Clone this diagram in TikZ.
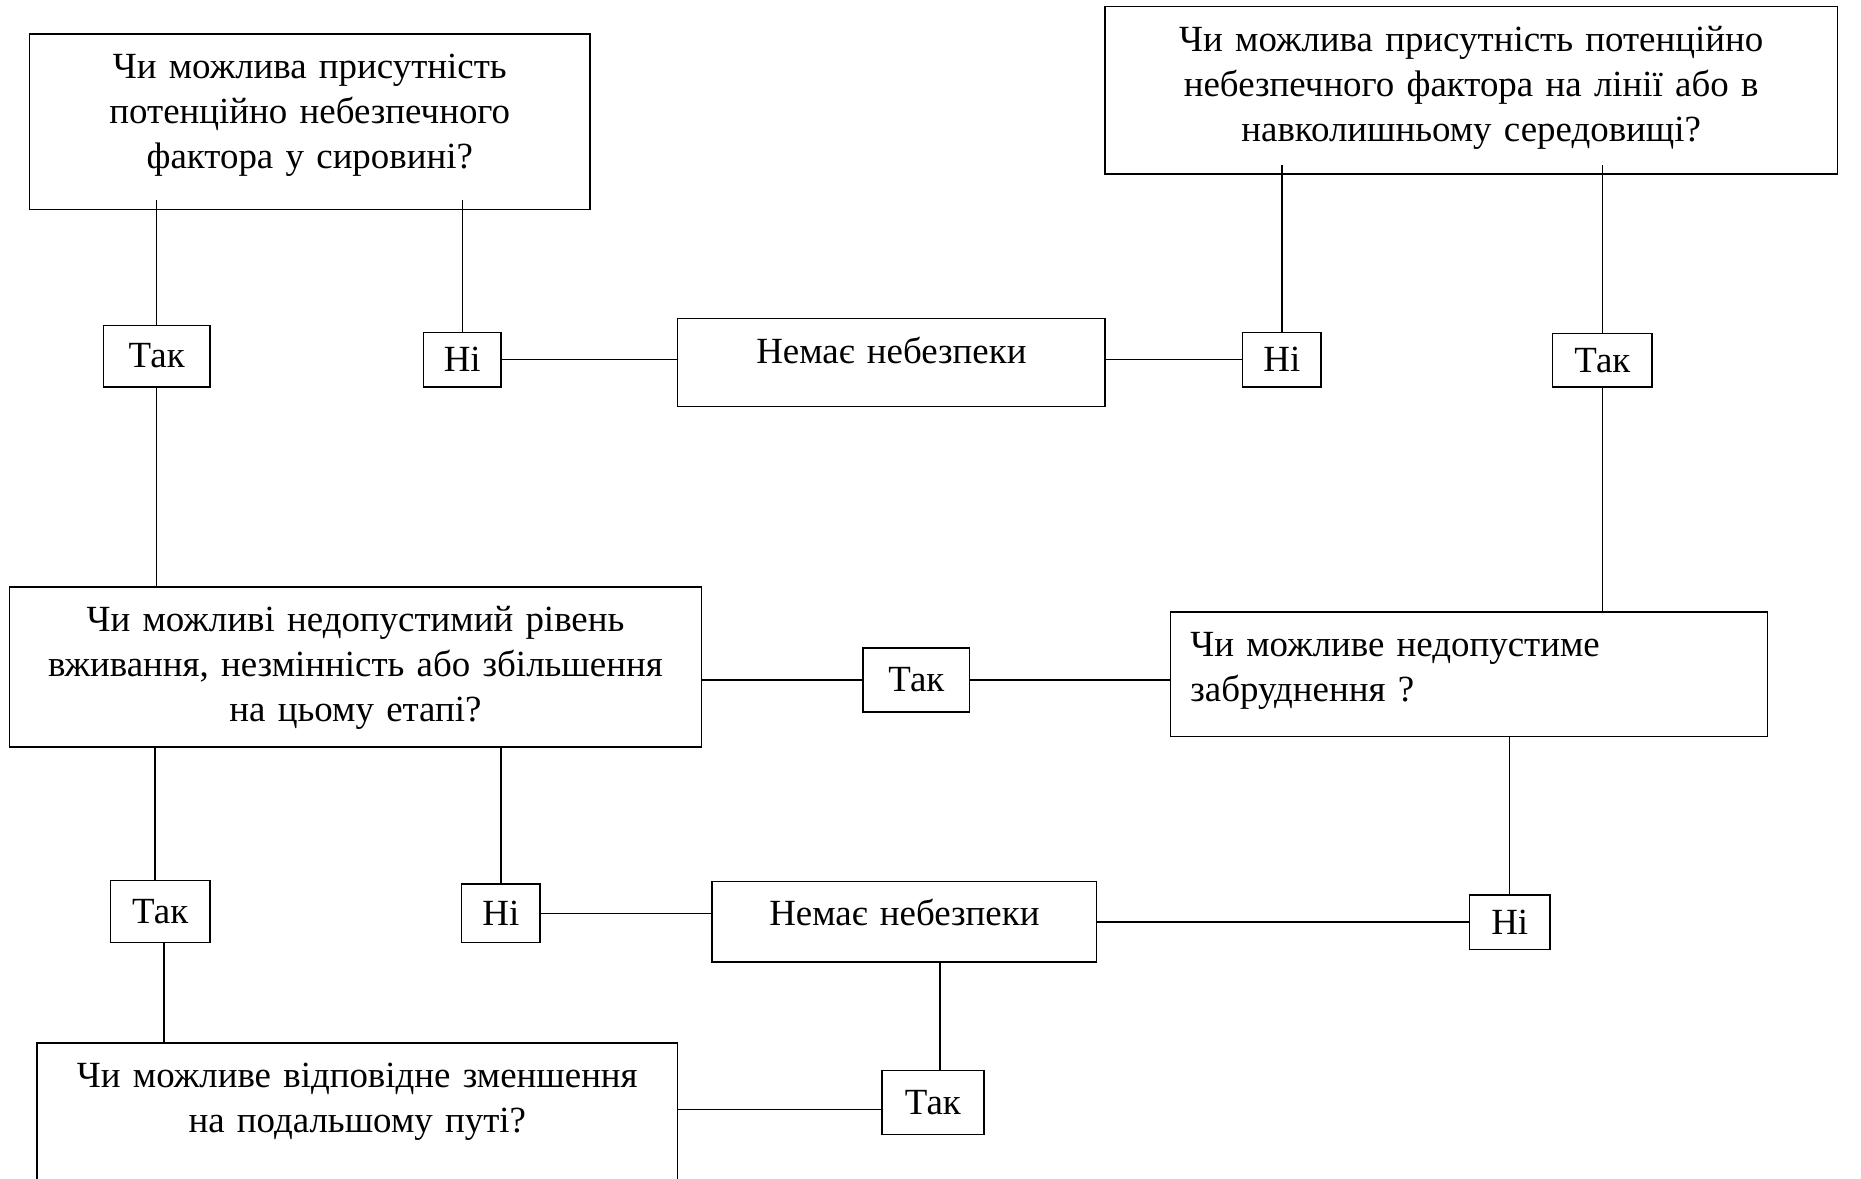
\documentclass[tikz,border=0pt]{standalone}
\usepackage{fontspec}
\setmainfont{Liberation Serif}
\usepackage{tikz}
\pgfdeclarelayer{nodelayer}
\pgfdeclarelayer{edgelayer}
\pgfsetlayers{edgelayer,nodelayer,main}
\tikzset{qbox/.style={draw, rectangle, align=center, inner sep=0pt, anchor=north, text height=0.445cm}}
\tikzset{ans/.style={draw, rectangle, inner sep=0pt}}
\tikzset{into/.style={shorten >=-0.1cm}}
\tikzstyle{none}=[inner sep=0pt]

\begin{document}
\begin{tikzpicture}[line width=0.5pt, font=\fontsize{10.5}{12.8}\selectfont]
	\useasboundingbox (0, 0) rectangle (18.61, -11.79);
	\begin{pgfonlayer}{nodelayer}
		\node [style=qbox, text width=5.602cm, text depth=1.312cm] (0) at (3.098, -0.332) {Чи можлива присутність\\потенційно небезпечного\\фактора у сировині?};
		\node [style=qbox, text width=7.323cm, text depth=1.229cm] (1) at (14.712, -0.059) {Чи можлива присутність потенційно\\небезпечного фактора на лінії або в\\навколишньому середовищі?};
		\node [style=qbox, text width=4.273cm, text depth=0.433cm] (2) at (8.914, -3.181) {Немає небезпеки};
		\node [style=ans, minimum width=1.068cm, minimum height=0.617cm] (3) at (1.567, -3.561) {Так};
		\node [style=ans, minimum width=0.772cm, minimum height=0.546cm] (4) at (4.623, -3.596) {Ні};
		\node [style=ans, minimum width=0.783cm, minimum height=0.546cm] (5) at (12.818, -3.596) {Ні};
		\node [style=ans, minimum width=0.997cm, minimum height=0.534cm] (6) at (16.023, -3.602) {Так};
		\node [style=qbox, text width=6.920cm, text depth=1.157cm] (7) at (3.555, -5.863) {Чи можливі недопустимий рівень\\вживання, незмінність або збільшення\\на цьому етапі?};
		\node [style=ans, minimum width=1.068cm, minimum height=0.641cm] (8) at (9.163, -6.801) {Так};
		\node [style=qbox, align=left, inner xsep=0.2cm, text width=5.570cm, text depth=0.801cm] (9) at (14.688, -6.113) {Чи можливе недопустиме\\забруднення ?};
		\node [style=ans, minimum width=0.997cm, minimum height=0.617cm] (10) at (1.602, -9.115) {Так};
		\node [style=ans, minimum width=0.783cm, minimum height=0.582cm] (11) at (5.009, -9.133) {Ні};
		\node [style=qbox, text width=3.846cm, text depth=0.362cm] (12) at (9.044, -8.807) {Немає небезпеки};
		\node [style=ans, minimum width=0.807cm, minimum height=0.546cm] (13) at (15.097, -9.222) {Ні};
		\node [style=ans, minimum width=1.020cm, minimum height=0.641cm] (14) at (9.329, -11.026) {Так};
		\node [style=qbox, text width=6.409cm, text depth=1.6cm] (15) at (3.573, -10.421) {Чи можливе відповідне зменшення\\на подальшому путі?};
	\end{pgfonlayer}
	\begin{pgfonlayer}{edgelayer}
		\draw [style=into] (3) to (3 |- 0.south);
		\draw [style=into] (4) to (4 |- 0.south);
		\draw (4) to (4 -| 2.west);
		\draw (5) to (5 -| 2.east);
		\draw [style=into] (5) to (5 |- 1.south);
		\draw [style=into] (6) to (6 |- 1.south);
		\draw (6) to (6 |- 9.north);
		\draw (3) to (3 |- 7.north);
		\draw (8) to (8 -| 7.east);
		\draw (8) to (8 -| 9.west);
		\draw ([xshift=-0.05cm]10.north) to ([xshift=-0.05cm]10.north |- 7.south);
		\draw (11) to (11 |- 7.south);
		\draw (11) to (11 -| 12.west);
		\draw (13) to (13 -| 12.east);
		\draw (13) to (13 |- 9.south);
		\draw ([xshift=0.07cm]14.north) to ([xshift=0.07cm]14.north |- 12.south);
		\draw ([yshift=-0.07cm]14.west) to ([yshift=-0.07cm]14.west -| 15.east);
		\draw ([xshift=0.04cm]10.south) to ([xshift=0.04cm]10.south |- 15.north);
	\end{pgfonlayer}
\end{tikzpicture}
\end{document}
